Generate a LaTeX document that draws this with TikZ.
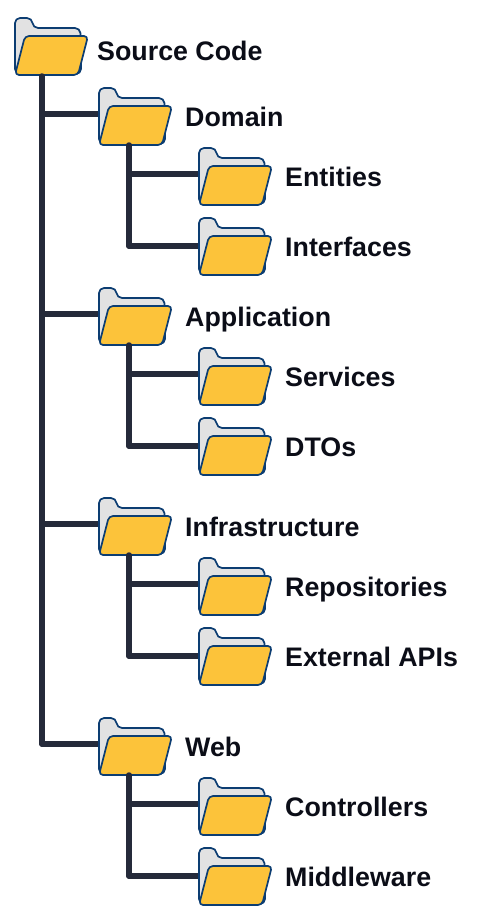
\documentclass[tikz,border=0pt]{standalone}
\usepackage{fontspec}
\setmainfont{Liberation Sans}
\usepackage{xcolor}
\usetikzlibrary{positioning}
\definecolor{treeInk}{HTML}{252A3A}
\definecolor{folderEdge}{HTML}{0C3D72}
\definecolor{folderBack}{HTML}{E2E2E2}
\definecolor{folderFront}{HTML}{FCC33A}
\definecolor{labelInk}{HTML}{0B0D17}
\tikzset{
  % one folder is 73 x 57 units, anchored at its upper-left corner
  folder/.pic={
    \draw[folder edge,fill=folderBack,rounded corners=5pt]
      (0,56)--(0,0)--(17,0)--(18,10)--(65,10)--(66,22)--(66,56)--cycle;
    \draw[folder edge,fill=folderFront,rounded corners=4pt]
      (10,18)--(73,18)--(63,57)--(0,57)--cycle;
  },
  folder edge/.style={draw=folderEdge,line width=1.7pt,line join=round},
  tree line/.style={draw=treeInk,line width=5.5pt,line join=round,line cap=round},
  tree label/.style={font=\bfseries\fontsize{26.8}{30}\selectfont,text=labelInk,
    anchor=base west,inner sep=0pt}
}
\begin{document}
\begin{tikzpicture}[x=1pt,y=-1pt]
  \useasboundingbox (0,0) rectangle (480,923);
  \foreach \name/\xx/\yy/\dy in {
    root/15/18/26,
    domain/99/88/26,entities/199/148/26,interfaces/199/218/28,
    application/99/288/26,services/199/348/26,dtos/199/418/28,
    infra/99/498/26,repos/199/558/26,apis/199/628/28,
    web/99/718/26,controllers/199/778/26,middleware/199/848/28} {
    \coordinate (\name-stem) at (\xx+30,\yy+57);
    \coordinate (\name-in) at (\xx+3,\yy+\dy);
  }
  \coordinate (root-stem) at (42,76);
  % side branches pass under the folders
  \foreach \kid in {domain,application,infra,web}
    \draw[tree line] (root-stem |- \kid-in)--(\kid-in);
  \foreach \parent/\first/\last in {domain/entities/interfaces,
    application/services/dtos,infra/repos/apis,web/controllers/middleware} {
    \draw[tree line] (\parent-stem |- \first-in)--(\first-in);
    \draw[tree line] (\parent-stem |- \last-in)--(\last-in);
  }
  \pic (root) at (15,18) {folder};
  \node[tree label] (root-label) at (97,60.5) {Source Code};
  \foreach \name/\xx/\yy/\lab in {
    domain/99/88/Domain,entities/199/148/Entities,interfaces/199/218/Interfaces,
    application/99/288/Application,services/199/348/Services,dtos/199/418/DTOs,
    infra/99/498/Infrastructure,repos/199/558/Repositories,apis/199/628/External APIs,
    web/99/718/Web,controllers/199/778/Controllers,middleware/199/848/Middleware} {
    \pic (\name) at (\xx,\yy) {folder};
    \node[tree label] (\name-label) at (\xx+86,\yy+38.5) {\lab};
  }
  % stems start on the lower edge of their folder
  \draw[tree line] (root-stem)--(root-stem |- web-in);
  \foreach \parent/\last in {domain/interfaces,application/dtos,infra/apis,web/middleware}
    \draw[tree line] (\parent-stem)--(\parent-stem |- \last-in);
\end{tikzpicture}
\end{document}
